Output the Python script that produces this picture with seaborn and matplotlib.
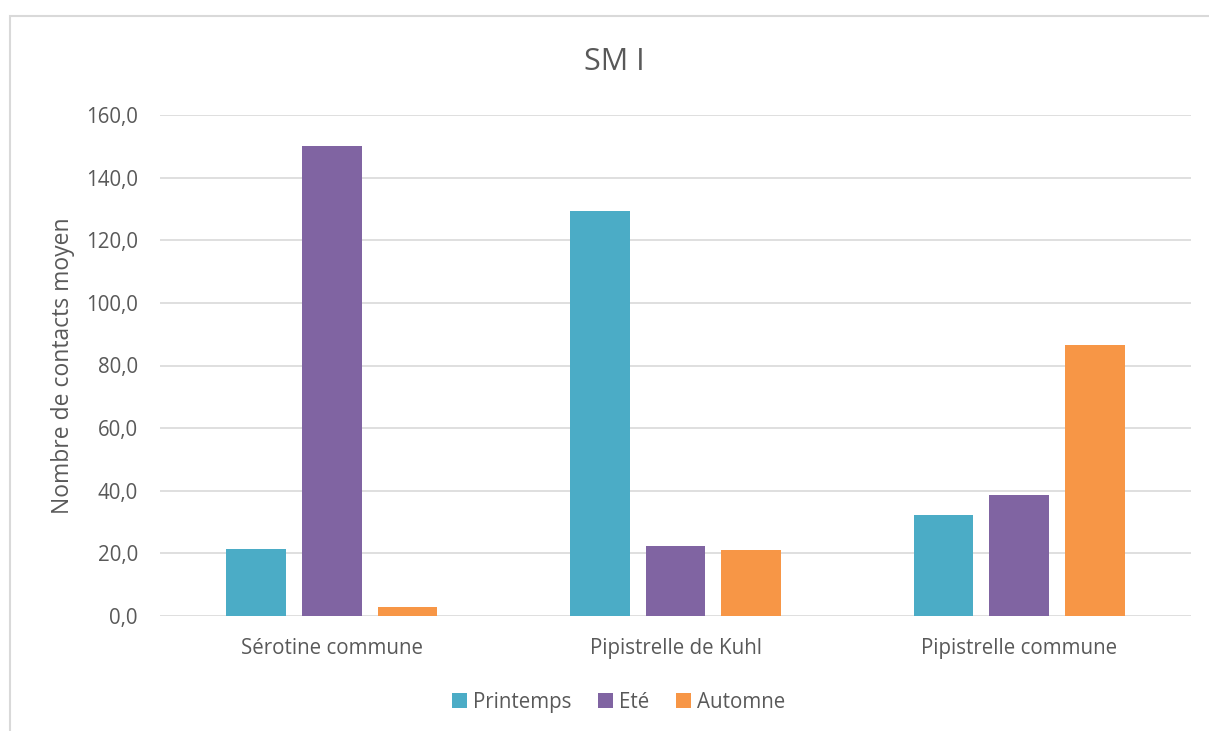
import matplotlib
matplotlib.use("Agg")
import matplotlib.pyplot as plt
import seaborn as sns
import pandas as pd
from matplotlib.patches import Rectangle
from matplotlib.ticker import FuncFormatter

species = ["Sérotine commune", "Pipistrelle de Kuhl", "Pipistrelle commune"]
seasons = ["Printemps", "Eté", "Automne"]
printemps = [21.3, 129.5, 32.2]
ete = [150.2, 22.5, 38.5]
automne = [2.9, 21.0, 86.6]
season_colors = ["#4BACC6", "#8064A2", "#F79646"]
yticks = [0, 20, 40, 60, 80, 100, 120, 140, 160]

df = pd.DataFrame({
    "espece": species * 3,
    "saison": [s for s in seasons for _ in species],
    "valeur": printemps + ete + automne,
})

sns.set_theme(style="white")
plt.rcParams["font.family"] = ["Open Sans", "DejaVu Sans"]

fig = plt.figure(figsize=(12.09, 7.31), dpi=100)
ax = fig.add_axes([160 / 1209, 1 - 616 / 731, (1191 - 160) / 1209, (616 - 115) / 731])

sns.barplot(data=df, x="espece", y="valeur", hue="saison", hue_order=seasons,
            palette=season_colors, width=0.66, gap=0.21, saturation=1,
            edgecolor="none", ax=ax, legend=True)

ax.set_ylim(0, 160)
ax.set_xlim(-0.5, 2.5)
ax.set_yticks(yticks)
ax.yaxis.set_major_formatter(FuncFormatter(lambda v, p: f"{v:.1f}".replace(".", ",")))
ax.grid(axis="y", color="#d9d9d9", linewidth=1.2)
ax.set_axisbelow(True)
for side in ["top", "right", "left", "bottom"]:
    ax.spines[side].set_visible(False)
ax.tick_params(axis="y", length=0, pad=16, labelsize=14.8, labelcolor="#595959")
ax.tick_params(axis="x", length=0, pad=15.5, labelsize=14.8, labelcolor="#595959")
ax.set_xlabel("")
ax.set_ylabel("Nombre de contacts moyen", fontsize=16.5, color="#595959", labelpad=8)

fig.text(614 / 1209, 1 - 62 / 731, "SM I", fontsize=22, color="#595959",
         ha="center", va="center")

leg = ax.legend(loc="center", bbox_to_anchor=(0.445, -0.172), ncol=3, frameon=False,
                fontsize=14.8, handlelength=0.72, handleheight=0.72, handletextpad=0.3,
                columnspacing=1.3, labelcolor="#595959")

# chart frame
fig.patches.append(Rectangle((9.5 / 1209, -0.1), 1.2, 1 - 15.5 / 731 + 0.1,
                             transform=fig.transFigure, fill=False,
                             edgecolor="#d9d9d9", linewidth=1.5))

fig.savefig("out.png", dpi=100)
